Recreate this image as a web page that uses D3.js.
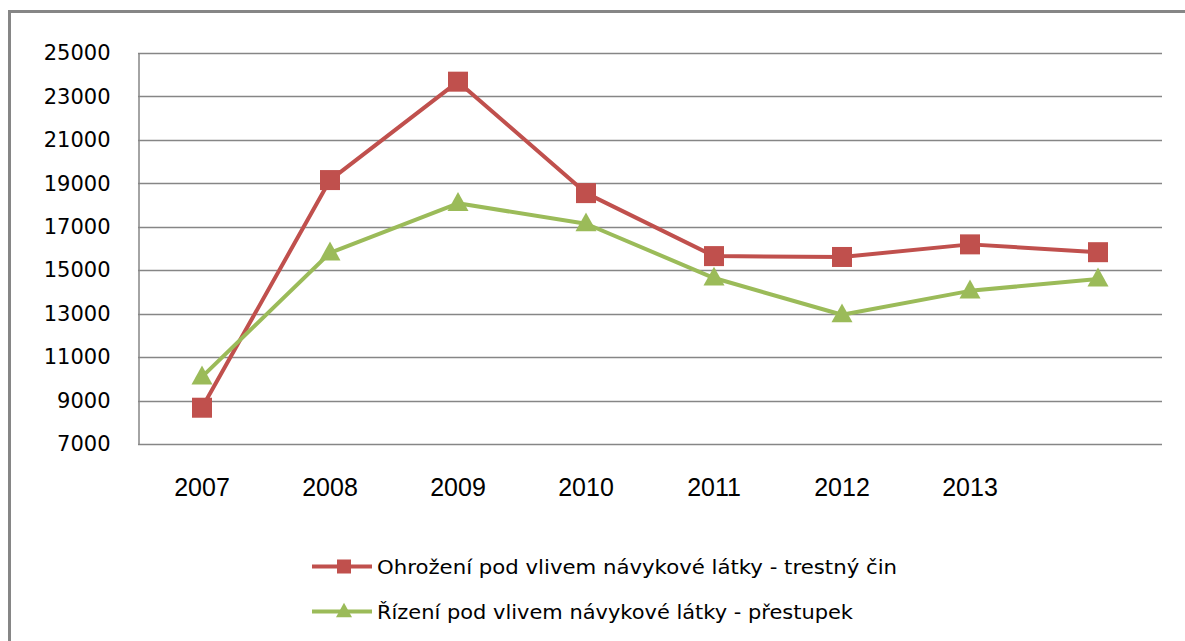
<!DOCTYPE html>
<html>
<head>
<meta charset="utf-8">
<script src="https://cdn.jsdelivr.net/npm/d3@7"></script>
<style>
  html, body { margin: 0; padding: 0; background: #fff; }
  svg { display: block; }
</style>
</head>
<body>
<svg id="chart" width="1185" height="641"></svg>
<script>
// ---- data ----
const categories = ["2007", "2008", "2009", "2010", "2011", "2012", "2013", ""];
const seriesNames = [
  "Ohrožení pod vlivem návykové látky - trestný čin",
  "Řízení pod vlivem návykové látky - přestupek"
];
const trestnyCin = [8670, 19150, 23680, 18550, 15650, 15610, 16190, 15830];
const prestupek  = [10090, 15800, 18080, 17140, 14640, 12950, 14050, 14600];
const yTicks = [7000, 9000, 11000, 13000, 15000, 17000, 19000, 21000, 23000, 25000];

const colors = ["#C0504D", "#9BBB59"];
const gridColor = "#868686";

const svg = d3.select("#chart");

// outer chart frame (extends beyond the visible area)
svg.append("rect")
  .attr("x", 9.5).attr("y", 11.5)
  .attr("width", 1300).attr("height", 800)
  .attr("fill", "none").attr("stroke", gridColor).attr("stroke-width", 3);

const plot = { left: 138, right: 1162, top: 53, bottom: 444 };

const x = d3.scaleBand().domain(categories.map((c, i) => i)).range([plot.left, plot.right]);
const y = d3.scaleLinear().domain([7000, 25000]).range([plot.bottom, plot.top]);
const cx = i => x(i) + x.bandwidth() / 2;

// gridlines
svg.append("g").selectAll("line").data(yTicks).join("line")
  .attr("x1", plot.left).attr("x2", plot.right)
  .attr("y1", d => Math.round(y(d)) + 0.5).attr("y2", d => Math.round(y(d)) + 0.5)
  .attr("stroke", gridColor).attr("stroke-width", 1.5);

// y axis
const yAxis = d3.axisLeft(y).tickValues(yTicks).tickSize(0).tickPadding(28).tickFormat(d3.format("d"));
const yg = svg.append("g").attr("transform", `translate(${plot.left + 0.5},0)`).call(yAxis);
yg.select(".domain").attr("stroke", gridColor).attr("stroke-width", 1.5);
yg.selectAll("text")
  .attr("font-family", "DejaVu Sans, Verdana, sans-serif")
  .attr("font-size", 21)
  .attr("fill", "#000");

// x axis labels
const xAxis = d3.axisBottom(x).tickSize(0).tickPadding(34).tickFormat(i => categories[i]);
const xg = svg.append("g").attr("transform", `translate(0,${plot.bottom})`).call(xAxis);
xg.select(".domain").remove();
xg.selectAll("text")
  .attr("font-family", "Liberation Sans, Arial, sans-serif")
  .attr("font-size", 25)
  .attr("fill", "#000");

// series
const series = [trestnyCin, prestupek];
const line = d3.line().x((d, i) => cx(i)).y(d => y(d));

series.forEach((vals, s) => {
  svg.append("path")
    .datum(vals)
    .attr("d", line)
    .attr("fill", "none")
    .attr("stroke", colors[s])
    .attr("stroke-width", 4)
    .attr("stroke-linejoin", "round");
});

// markers
function marker(g, type, px, py, size, color) {
  if (type === "square") {
    g.append("rect")
      .attr("x", px - size / 2).attr("y", py - size / 2)
      .attr("width", size).attr("height", size)
      .attr("fill", color);
  } else {
    const h = size * 0.9;
    g.append("path")
      .attr("d", `M${px},${py - h * 0.6} L${px + size / 2},${py + h * 0.4} L${px - size / 2},${py + h * 0.4} Z`)
      .attr("fill", color);
  }
}
const mg = svg.append("g");
trestnyCin.forEach((v, i) => marker(mg, "square", cx(i), y(v), 20, colors[0]));
prestupek.forEach((v, i) => marker(mg, "triangle", cx(i), y(v), 21, colors[1]));

// legend
const legendRows = [
  { name: seriesNames[0], color: colors[0], type: "square", y: 566.5, len: 520 },
  { name: seriesNames[1], color: colors[1], type: "triangle", y: 611.5, len: 476 }
];
const lg = svg.append("g");
legendRows.forEach(r => {
  lg.append("line")
    .attr("x1", 312).attr("x2", 372)
    .attr("y1", r.y).attr("y2", r.y)
    .attr("stroke", r.color).attr("stroke-width", 4);
  marker(lg, r.type, 344, r.y, r.type === "square" ? 14 : 16, r.color);
  lg.append("text")
    .attr("x", 377).attr("y", r.y)
    .attr("dy", "0.36em")
    .attr("font-family", "DejaVu Sans, Verdana, sans-serif")
    .attr("font-size", 20)
    .attr("textLength", r.len)
    .attr("lengthAdjust", "spacingAndGlyphs")
    .attr("fill", "#000")
    .text(r.name);
});
</script>
</body>
</html>
